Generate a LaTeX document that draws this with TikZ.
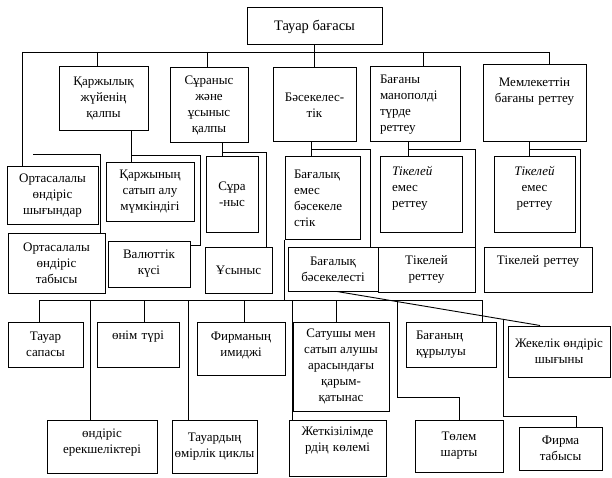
\documentclass[tikz,border=0pt]{standalone}
\usepackage{fontspec}
\setmainfont{Liberation Serif}
\usetikzlibrary{calc}
\usetikzlibrary{positioning}

\tikzset{
  box/.style={draw, line width=1pt, inner sep=2pt, align=center,
              font=\fontsize{13pt}{16pt}\selectfont},
  lbox/.style={box, text width=#1pt, align=left},
  tbox/.style={box, text width=#1pt, align=center},
  sz/.style 2 args={minimum width=#1pt, minimum height=#2pt},
  wire/.style={line width=0.9pt},
}

\begin{document}
\begin{tikzpicture}[x=1pt,y=-1pt]

  \useasboundingbox (0,0) rectangle (612,478);

  %% the price and its five groups
  \node[box, sz={135}{37}, font=\fontsize{14.5pt}{17pt}\selectfont] (top) at (314.5,26.5) {Тауар бағасы};
  \node[box, sz={89}{64}]  (karzh) at (103.5,99)  {Қаржылық\\жүйенің\\қалпы};
  \node[box, sz={78}{75}]  (suran) at (209,105.5) {Сұраныс\\және\\ұсыныс\\қалпы};
  \node[box, sz={83}{74}]  (bas)   at (314.5,105) {Бәсекелес-\\тік};
  \node[lbox=70, sz={90}{75}]  (monop) at (415,104.5) {Бағаны\\манополді\\түрде\\реттеу};
  \node[tbox=95, sz={103}{77}] (memle) at (534.5,103.5) {Мемлекеттін\\бағаны реттеу\par\kern23pt};

  %% second row
  \node[box, sz={91}{57}]  (shyg)  at (52.5,195.5) {Ортасалалы\\өндіріс\\шығындар};
  \node[box, sz={97}{60}]  (tabys) at (56.5,263)   {Ортасалалы\\өндіріс\\табысы};
  \node[box, sz={88}{58}]  (kaps)  at (150,192)    {Қаржының\\сатып алу\\мүмкіндігі};
  \node[box, sz={82}{46}]  (valut) at (149,264)    {Валюттік\\күсі};
  \node[box, sz={52}{75}]  (sura)  at (232,194.5)  {Сұра\\-ныс};
  \node[box, sz={67}{46}]  (usyn)  at (238.5,270)  {Ұсыныс};
  \node[lbox=57, sz={75}{82}]  (bemes)  at (322.5,198) {Бағалық\\емес\\бәсекеле\\стік};
  \node[box, sz={90}{44}]  (bbas)  at (333,269)    {Бағалық\\бәсекелесті};
  \node[lbox=58, sz={82}{75}]  (temes1) at (421,194.5) {\textit{Тікелей}\\емес\\реттеу\par\kern13pt};
  \node[box, sz={97}{45}]  (tik1)  at (426.5,269.5) {Тікелей\\реттеу};
  \node[tbox=75, sz={81}{75}]  (temes2) at (534.5,194.5) {\textit{Тікелей}\\емес\\реттеу\par\kern13pt};
  \node[tbox=100, sz={108}{45}] (tik2) at (538,269.5) {Тікелей реттеу\par\kern17pt};

  %% factors below
  \node[box, sz={75}{45}]  (sapa)  at (45.5,344.5) {Тауар\\сапасы};
  \node[tbox=76, sz={82}{45}]  (onim)  at (138,344.5) {өнім түрі\par\kern15pt};
  \node[tbox=82, sz={88}{53}]  (imid)  at (241,348.5) {Фирманың\\имиджі\par\kern7pt};
  \node[box, sz={96}{89}]  (satu)  at (341,366.5) {Сатушы мен\\сатып алушы\\арасындағы\\қарым-\\қатынас};
  \node[lbox=70, sz={90}{45}]  (bagan) at (451,344.5) {Бағаның\\құрылуы};
  \node[box, sz={102}{51}] (zhek)  at (559,351.5) {Жекелік өндіріс\\шығыны};
  \node[tbox=104, sz={110}{53}] (erek) at (102,446.5) {өндіріс\\ерекшеліктері\par\kern8pt};
  \node[box, sz={85}{53}]  (omir)  at (214.5,446.5) {Тауардың\\өмірлік циклы};
  \node[tbox=91, sz={97}{56}]  (zhetk) at (337.5,448) {Жеткізілімде\\рдің көлемі\par\kern14pt};
  \node[box, sz={88}{52}]  (tolem) at (459,446)   {Төлем\\шарты};
  \node[box, sz={83}{43}]  (firma) at (560.5,448.5) {Фирма\\табысы};

  %% upper bus
  \coordinate (bus/w) at (22,52);
  \coordinate (bus/e) at (549,52);
  \draw[wire] (bus/w) -- (bus/e);
  \draw[wire] (top) -- (bas);
  \foreach \x/\n in {97/karzh,207/suran,423/monop,549/memle}
  {
    \draw[wire] (\x,52) -- (\x,0 |- \n.north);
  }
  \draw[wire] (bus/w) -- (bus/w |- shyg.north);
  \draw[wire] (33,154) -| (100,0 |- tabys.north);

  %% brackets under the groups
  \draw[wire] (131,0 |- karzh.south) -- (131,0 |- kaps.north);
  \draw[wire] (131,155) -| (200,245) -- (valut.east |- 200,245);
  \draw[wire] (222,0 |- suran.south) -- (222,0 |- sura.north);
  \draw[wire] (222,152) -| (266,0 |- usyn.north);
  \draw[wire] (311,0 |- bas.south) -- (311,0 |- bemes.north);
  \draw[wire] (311,149) -| (370,0 |- bbas.north);
  \draw[wire] (408,0 |- monop.south) -- (408,0 |- temes1.north);
  \draw[wire] (408,149) -| (tik1.north east);
  \draw[wire] (529,0 |- memle.south) -- (529,0 |- temes2.north);
  \draw[wire] (529,149) -| (580,0 |- tik2.north);

  %% lower bus
  \coordinate (low/w) at (39,300);
  \coordinate (low/e) at (482,300);
  \draw[wire] (low/w) -- (low/e);
  \draw[wire] (bemes.south west) -- (bemes.south west |- low/w);
  \foreach \x/\n in {39/sapa,90/erek,144/onim,188/omir,244/imid,292/zhetk,336/satu,482/bagan}
  {
    \draw[wire] (\x,300) -- (\x,0 |- \n.north);
  }
  \draw[wire] (397,300) |- (459,397) -- (tolem.north);

  %% slanted line to the right
  \coordinate (diag/a) at (337,0 |- bbas.south);
  \coordinate (diag/b) at (540,0 |- zhek.north);
  \draw[wire] (diag/a) -- (diag/b);
  \path (diag/a) -- (diag/b) coordinate[pos=0.818] (diag/fork);
  \draw[wire] (diag/fork) |- (576,416) -- (576,0 |- firma.north);

\end{tikzpicture}
\end{document}
